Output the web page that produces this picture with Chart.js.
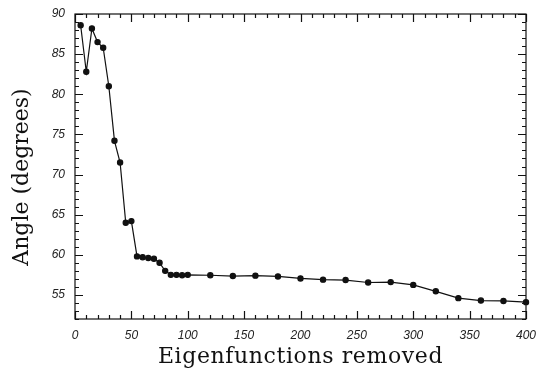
<!DOCTYPE html>
<html>
<head>
<meta charset="utf-8">
<script src="https://cdn.jsdelivr.net/npm/chart.js@4/dist/chart.umd.min.js"></script>
<style>
  html, body { margin: 0; padding: 0; background: #fff; }
  canvas { display: block; }
</style>
</head>
<body>
<canvas id="angleChart" width="538" height="370"></canvas>
<script>
// number of eigenfunctions removed vs. resulting angle
const removed = [5, 10, 15, 20, 25, 30, 35, 40, 45, 50, 55, 60, 65, 70, 75, 80, 85, 90, 95, 100,
  120, 140, 160, 180, 200, 220, 240, 260, 280, 300, 320, 340, 360, 380, 400];
const angle = [88.6, 82.8, 88.2, 86.5, 85.8, 81.0, 74.2, 71.5, 64.0, 64.2, 59.8, 59.7, 59.6, 59.5, 59.0, 58.0, 57.5, 57.5, 57.45, 57.5,
  57.45, 57.35, 57.4, 57.3, 57.05, 56.9, 56.85, 56.55, 56.6, 56.25, 55.45, 54.6, 54.3, 54.25, 54.1];

const xTicks = [0, 50, 100, 150, 200, 250, 300, 350, 400];
const yTicks = [55, 60, 65, 70, 75, 80, 85, 90];

const tickFont = { family: 'Liberation Sans', size: 12, style: 'italic' };
const titleFont = '22px "DejaVu Serif"';

// frame on all four sides with inward major/minor ticks, plus axis titles
const framePlugin = {
  id: 'frameTicks',
  afterDraw(chart) {
    const { ctx, chartArea: a, scales: { x, y } } = chart;
    ctx.save();
    ctx.strokeStyle = '#111';
    ctx.lineWidth = 1.2;
    ctx.strokeRect(a.left, a.top, a.right - a.left, a.bottom - a.top);
    ctx.beginPath();
    for (let v = x.min; v <= x.max; v += 10) {
      const px = Math.round(x.getPixelForValue(v)) + 0.5;
      const len = v % 50 === 0 ? 8 : 4;
      ctx.moveTo(px, a.bottom); ctx.lineTo(px, a.bottom - len);
      ctx.moveTo(px, a.top); ctx.lineTo(px, a.top + len);
    }
    for (let v = y.min; v <= y.max; v += 1) {
      const py = Math.round(y.getPixelForValue(v)) + 0.5;
      const len = v % 5 === 0 ? 8 : 4;
      ctx.moveTo(a.left, py); ctx.lineTo(a.left + len, py);
      ctx.moveTo(a.right, py); ctx.lineTo(a.right - len, py);
    }
    ctx.stroke();

    ctx.fillStyle = '#111';
    ctx.font = titleFont;
    ctx.textAlign = 'center';
    ctx.textBaseline = 'alphabetic';
    ctx.letterSpacing = '0.6px';
    ctx.fillText('Eigenfunctions removed', (a.left + a.right) / 2, 363);
    ctx.letterSpacing = '0px';
    ctx.translate(28, 177);
    ctx.rotate(-Math.PI / 2);
    ctx.fillText('Angle (degrees)', 0, 0);
    ctx.restore();
  }
};

new Chart(document.getElementById('angleChart'), {
  type: 'line',
  data: {
    datasets: [{
      data: removed.map((r, i) => ({ x: r, y: angle[i] })),
      borderColor: '#111',
      backgroundColor: '#111',
      borderWidth: 1.2,
      pointRadius: 2.6,
      pointHoverRadius: 2.6,
      tension: 0,
      clip: false
    }]
  },
  options: {
    responsive: false,
    animation: false,
    layout: { padding: { top: 14, right: 12, left: 0, bottom: 0 } },
    plugins: { legend: { display: false }, tooltip: { enabled: false } },
    scales: {
      x: {
        type: 'linear',
        min: 0,
        max: 400,
        afterBuildTicks: s => { s.ticks = xTicks.map(value => ({ value })); },
        afterFit: s => { s.height = 51; s.paddingLeft = 0; s.paddingRight = 0; },
        grid: { display: false, drawTicks: false },
        border: { display: false },
        ticks: { font: tickFont, color: '#222', padding: 9, maxRotation: 0 }
      },
      y: {
        min: 52,
        max: 90,
        afterBuildTicks: s => { s.ticks = yTicks.map(value => ({ value })); },
        afterFit: s => { s.width = 75; s.paddingTop = 0; s.paddingBottom = 0; },
        grid: { display: false, drawTicks: false },
        border: { display: false },
        ticks: { font: tickFont, color: '#222', padding: 10 }
      }
    }
  },
  plugins: [framePlugin]
});
</script>
</body>
</html>
